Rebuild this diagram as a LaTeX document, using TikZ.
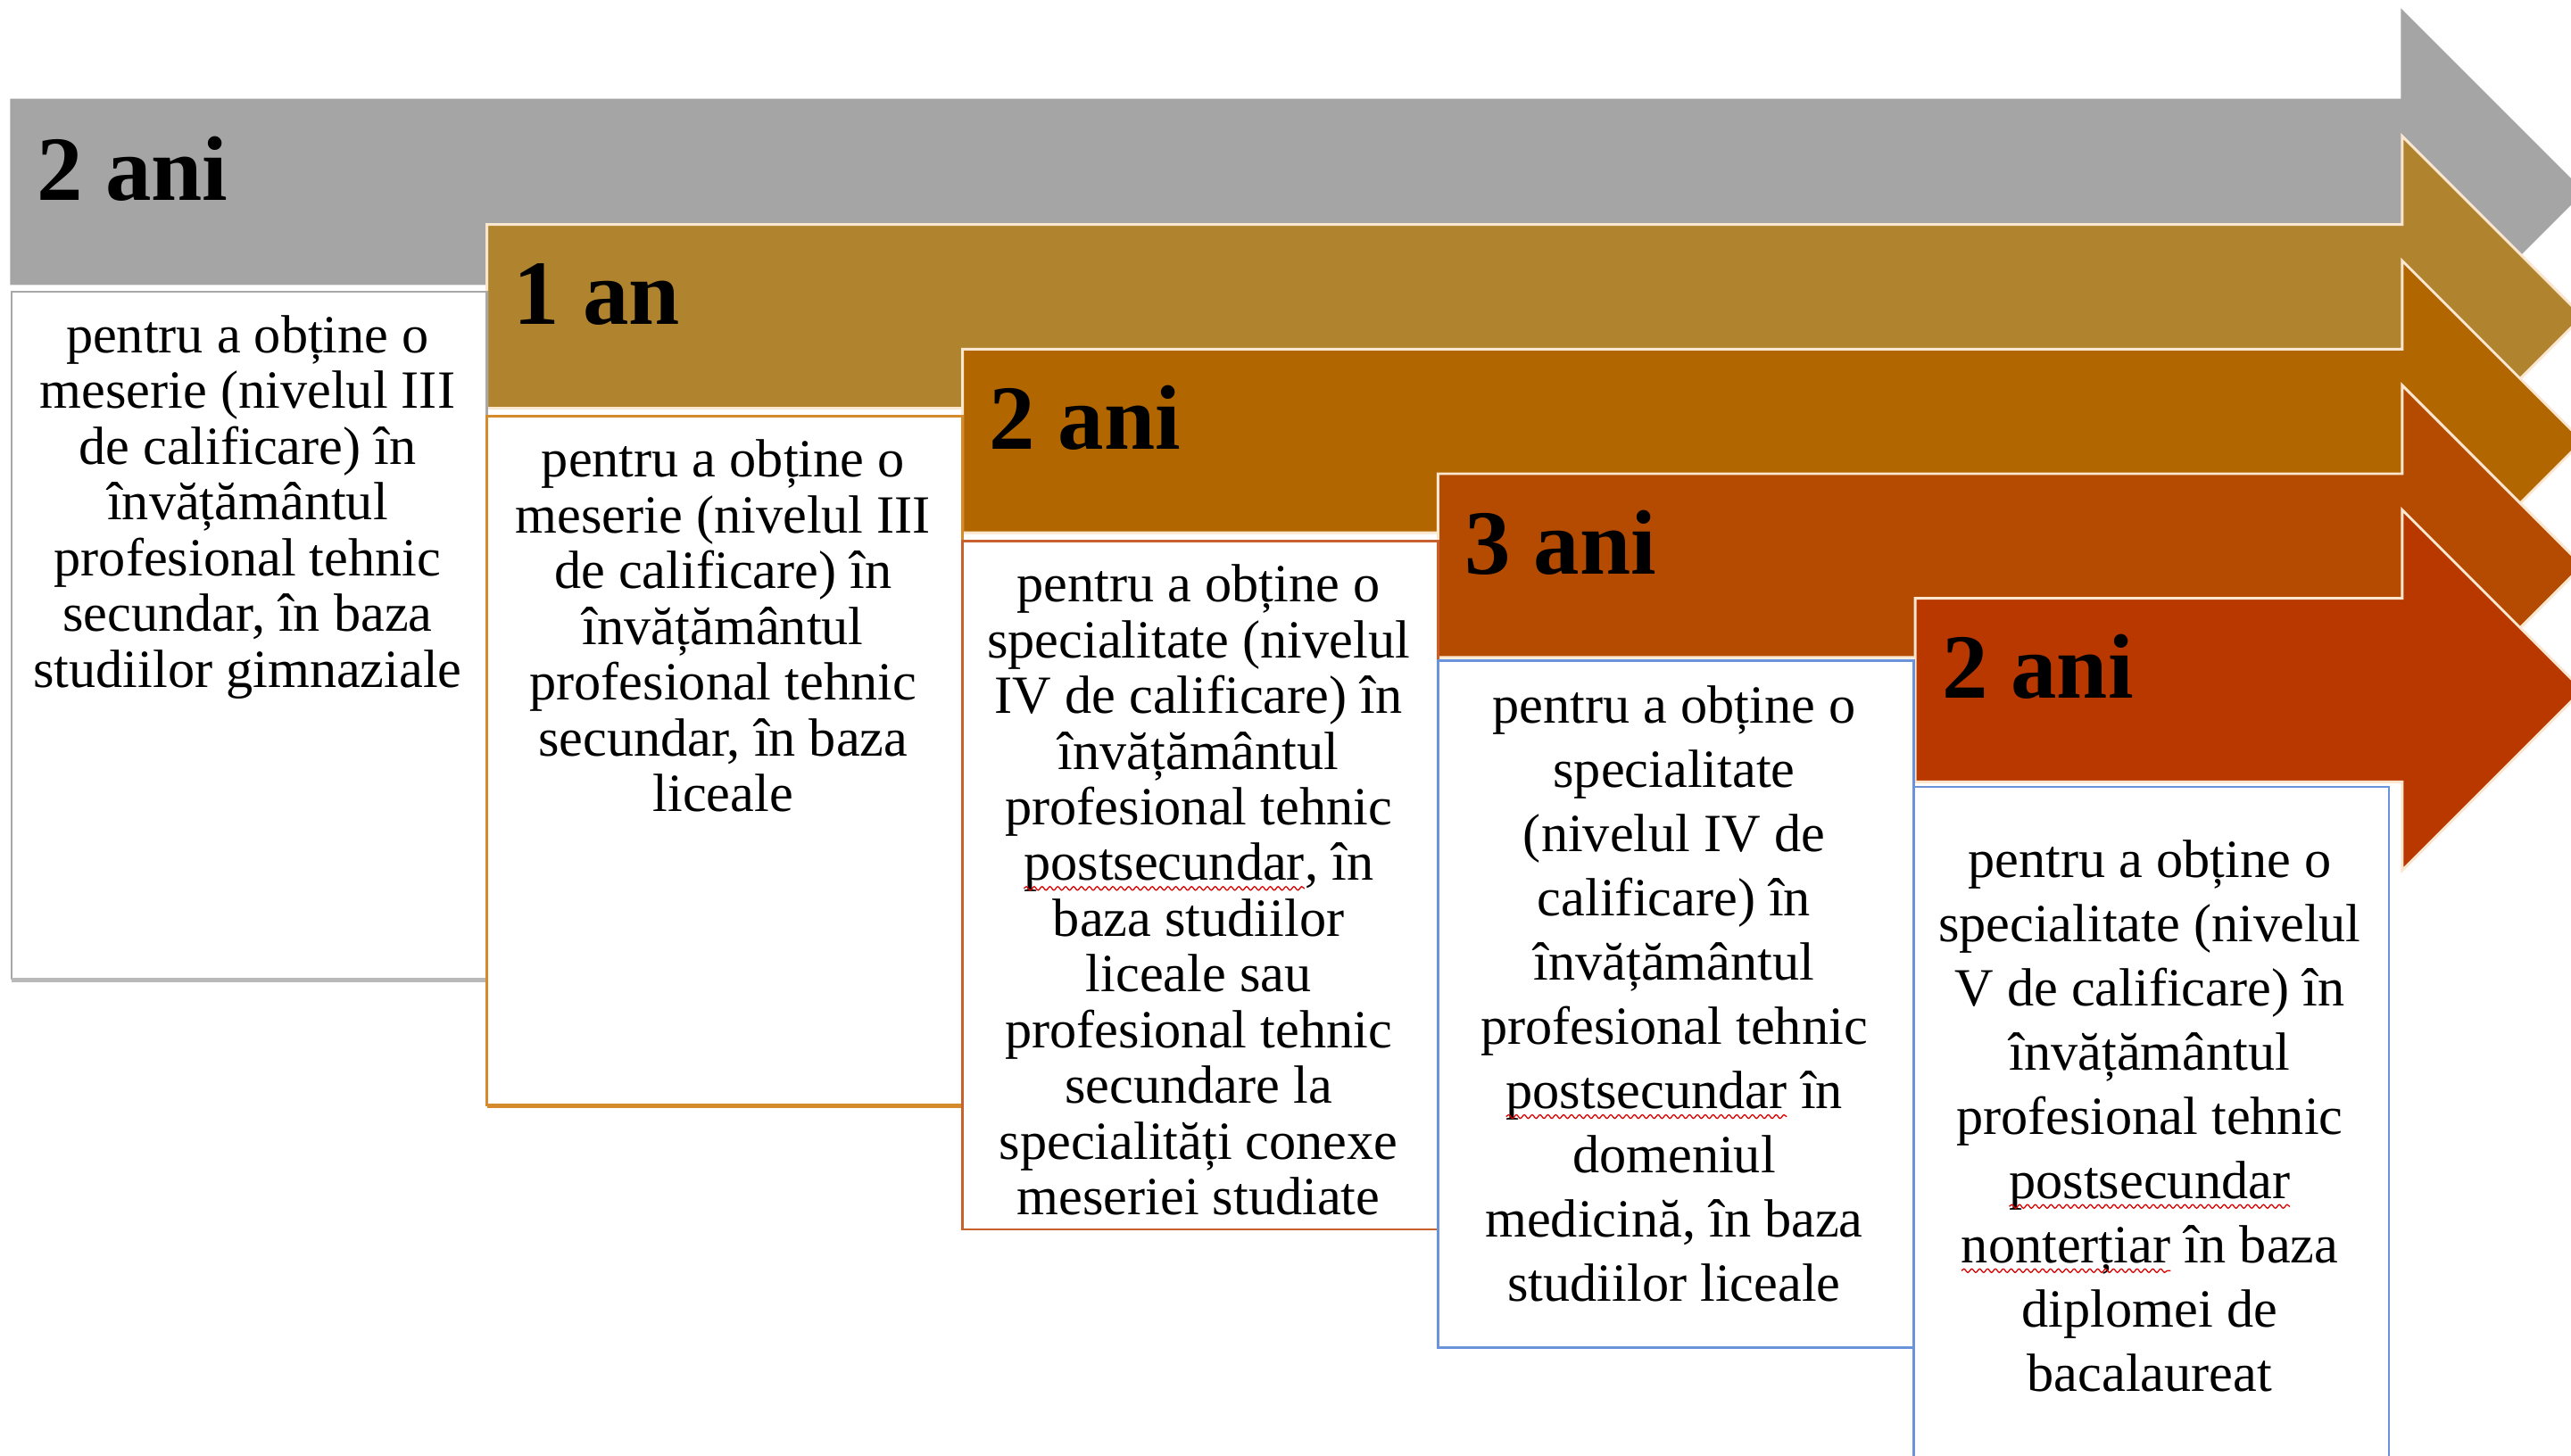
\documentclass[tikz,border=0pt]{standalone}
\usepackage{fontspec}
\setmainfont{Liberation Serif}
\usetikzlibrary{decorations.pathmorphing}
\definecolor{cGray}{HTML}{A5A5A5}
\definecolor{cOchre}{HTML}{B0832F}
\definecolor{cOrange}{HTML}{B26600}
\definecolor{cBrown}{HTML}{B54B00}
\definecolor{cRed}{HTML}{B93800}
\definecolor{bGray}{HTML}{A8A8A8}
\definecolor{bOrange}{HTML}{D58A2C}
\definecolor{bRust}{HTML}{C8602E}
\definecolor{bBlue}{HTML}{6A93DC}
\definecolor{edgecol}{HTML}{FBE6CF}
\newcommand\sqg[1]{\tikz[baseline=(sqw.base)]{\node[inner sep=0pt,outer sep=0pt](sqw){#1};\draw[red!85!black,line width=0.35pt,decorate,decoration={snake,amplitude=0.55pt,segment length=2.4pt}]([yshift=-2.4pt]sqw.base west)--([yshift=-2.4pt]sqw.base east);}}
\newcommand\bigarrow[4]{%
  \filldraw[fill=#3,draw=#4,line width=0.8pt]
    (#1,#2) -- (1465,#2) -- (1465,{#2-54}) -- (1575,{#2+56}) -- (1465,{#2+166})
    -- (1465,{#2+112}) -- (#1,{#2+112}) -- cycle;}
\tikzset{
  txt/.style={align=center,inner sep=0pt,anchor=north,font=\fontsize{16.4}{17}\selectfont},
  txtwide/.style={txt,font=\fontsize{16.4}{19.6}\selectfont},
  lbl/.style={inner sep=0pt,anchor=base west,font=\fontsize{28}{30}\selectfont\bfseries},
  boxline/.style={line width=0.7pt}
}
\begin{document}
\begin{tikzpicture}[x=0.5pt,y=-0.5pt]
\useasboundingbox (0,0) rectangle (1568,888);
\clip (0,0) rectangle (1568,888);
\fill[white] (0,0) rectangle (1568,888);
% arrows
\bigarrow{7}{61}{cGray}{cGray}
\bigarrow{297}{137}{cOchre}{edgecol}
\bigarrow{587}{213}{cOrange}{edgecol}
\bigarrow{877}{289}{cBrown}{edgecol}
\bigarrow{1168}{365}{cRed}{edgecol}
% labels
\node[lbl] (l1) at (22,122) {2 ani};
\node[lbl] (l2) at (313,198) {1 an};
\node[lbl] (l3) at (603,274) {2 ani};
\node[lbl] (l4) at (893,350) {3 ani};
\node[lbl] (l5) at (1184,426) {2 ani};
% boxes
\draw[boxline,draw=bGray,fill=white] (7,178) rectangle (297,597);
\draw[line width=1.3pt,draw=bGray!80] (7,598) -- (297,598);
\draw[boxline,draw=bOrange,fill=white] (297,254) rectangle (587,674);
\draw[line width=1.2pt,draw=bOrange] (297,674.5) -- (587,674.5);
\draw[boxline,draw=bRust,fill=white] (587,330) rectangle (877,750);
\draw[boxline,draw=bBlue,fill=white] (877,403) rectangle (1167,822);
\draw[boxline,draw=bBlue,fill=white] (1167,480) rectangle (1457,900);
% texts
\node[txt] (t1) at (151,192) {pentru a obține o\\meserie (nivelul III\\de calificare) în\\învățământul\\profesional tehnic\\secundar, în baza\\studiilor gimnaziale};
\node[txt] (t2) at (441,268) {pentru a obține o\\meserie (nivelul III\\de calificare) în\\învățământul\\profesional tehnic\\secundar, în baza\\liceale};
\node[txt] (t3) at (731,344) {pentru a obține o\\specialitate (nivelul\\IV de calificare) în\\învățământul\\profesional tehnic\\\sqg{postsecundar}, în\\baza studiilor\\liceale sau\\profesional tehnic\\secundare la\\specialități conexe\\meseriei studiate};
\node[txtwide] (t4) at (1021,418) {pentru a obține o\\specialitate\\(nivelul IV de\\calificare) în\\învățământul\\profesional tehnic\\\sqg{postsecundar} în\\domeniul\\medicină, în baza\\studiilor liceale};
\node[txtwide] (t5) at (1311,512) {pentru a obține o\\specialitate (nivelul\\V de calificare) în\\învățământul\\profesional tehnic\\\sqg{postsecundar}\\\sqg{nonterțiar} în baza\\diplomei de\\bacalaureat};
\end{tikzpicture}
\end{document}
